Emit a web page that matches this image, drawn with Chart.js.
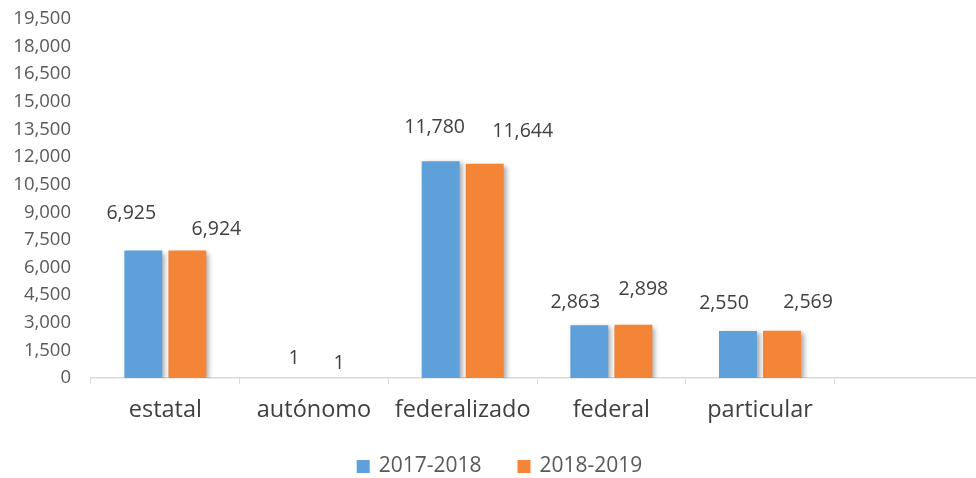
<!DOCTYPE html>
<html>
<head>
<meta charset="utf-8">
<script src="https://cdn.jsdelivr.net/npm/chart.js@4.4.1/dist/chart.umd.min.js"></script>
<style>
  html, body { margin: 0; padding: 0; background: #fff; overflow: hidden; }
  #wrap { width: 983px; height: 478px; }
</style>
</head>
<body>
<div id="wrap"><canvas id="chart"></canvas></div>
<script>
// data
const categories = ["estatal", "autónomo", "federalizado", "federal", "particular", ""];
const seriesNames = ["2017-2018", "2018-2019"];
const values1718 = [6925, 1, 11780, 2863, 2550, null];
const values1819 = [6924, 1, 11644, 2898, 2569, null];

// label nudges (px, relative to top-center of the bar), as placed in the original
const labelNudge = [
  [[-12, -37], [2, -20], [-6, -34], [-14, -23], [-14, -28]],
  [[29, -21], [3, -15], [38, -32], [10, -35], [26, -28]]
];

const FONT = "'Open Sans', sans-serif";

// soft drop shadow behind the bars
const barShadow = {
  id: "barShadow",
  beforeDatasetsDraw(chart) {
    const ctx = chart.ctx;
    ctx.save();
    ctx.shadowColor = "rgba(0,0,0,0.35)";
    ctx.shadowBlur = 5;
    ctx.shadowOffsetX = 3;
    ctx.shadowOffsetY = 2;
  },
  afterDatasetsDraw(chart) {
    chart.ctx.restore();
  }
};

// value labels above each bar
const valueLabels = {
  id: "valueLabels",
  afterDatasetsDraw(chart) {
    const ctx = chart.ctx;
    ctx.save();
    ctx.font = "19.5px " + FONT;
    ctx.fillStyle = "#404040";
    ctx.textAlign = "center";
    ctx.textBaseline = "middle";
    chart.data.datasets.forEach((ds, di) => {
      chart.getDatasetMeta(di).data.forEach((bar, i) => {
        const v = ds.data[i];
        if (v === null || v === undefined) return;
        const n = labelNudge[di][i] || [0, -30];
        ctx.fillText(v.toLocaleString("en-US"), bar.x + n[0], bar.y + n[1]);
      });
    });
    ctx.restore();
  }
};

// legend drawn by hand so the spacing matches the original
const bottomLegend = {
  id: "bottomLegend",
  afterDraw(chart) {
    const ctx = chart.ctx;
    ctx.save();
    ctx.font = "21px " + FONT;
    ctx.textBaseline = "middle";
    const box = 13, gap = 9, itemGap = 36, y = 466.5;
    const items = chart.data.datasets.map((ds) => ({
      text: ds.label, color: ds.backgroundColor, w: ctx.measureText(ds.label).width
    }));
    const total = items.reduce((s, it) => s + box + gap + it.w, 0) + itemGap * (items.length - 1);
    let x = 499.5 - total / 2;
    items.forEach((it) => {
      ctx.fillStyle = it.color;
      ctx.fillRect(x, y - box / 2, box, box);
      ctx.fillStyle = "#595959";
      ctx.fillText(it.text, x + box + gap, y);
      x += box + gap + it.w + itemGap;
    });
    ctx.restore();
  }
};

new Chart(document.getElementById("chart"), {
  type: "bar",
  data: {
    labels: categories,
    datasets: [
      {
        label: seriesNames[0],
        data: values1718,
        backgroundColor: "#5EA0DA",
        categoryPercentage: 0.593,
        barPercentage: 0.86
      },
      {
        label: seriesNames[1],
        data: values1819,
        backgroundColor: "#F48436",
        categoryPercentage: 0.593,
        barPercentage: 0.86
      }
    ]
  },
  options: {
    responsive: true,
    maintainAspectRatio: false,
    animation: false,
    layout: { padding: { top: 19, right: 0, left: 0, bottom: 42 } },
    scales: {
      x: {
        grid: {
          display: true,
          drawOnChartArea: false,
          drawTicks: true,
          tickLength: 6,
          color: "#d9d9d9",
          offset: true
        },
        border: { display: true, color: "#d9d9d9", width: 1.5 },
        ticks: {
          font: { family: FONT, size: 23.5 },
          color: "#404040",
          padding: 12,
          maxRotation: 0
        },
        afterFit(axis) { axis.height = 58; }
      },
      y: {
        min: 0,
        max: 19500,
        grid: { display: false, drawTicks: false },
        border: { display: false },
        ticks: {
          stepSize: 1500,
          font: { family: FONT, size: 18.5 },
          color: "#595959",
          padding: 20,
          callback: (v) => v.toLocaleString("en-US")
        },
        afterFit(axis) {
          axis.width = 91;
          axis.paddingTop = 0;
          axis.paddingBottom = 0;
        }
      }
    },
    plugins: {
      legend: { display: false },
      tooltip: { enabled: false }
    }
  },
  plugins: [barShadow, valueLabels, bottomLegend]
});
</script>
</body>
</html>
